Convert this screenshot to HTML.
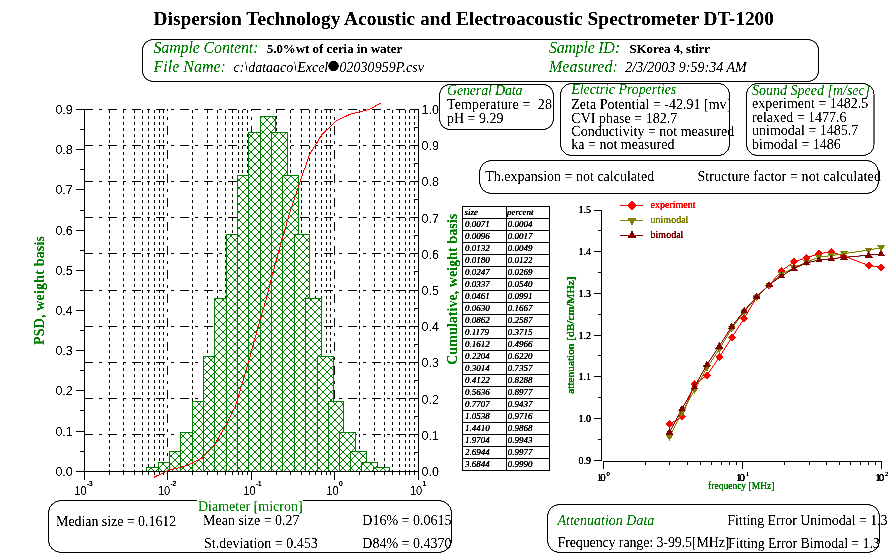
<!DOCTYPE html>
<html><head><meta charset="utf-8"><title>DT-1200</title>
<style>html,body{margin:0;padding:0;background:#fff}svg text{white-space:pre}</style></head>
<body>
<svg width="891" height="557" viewBox="0 0 891 557" style="display:block">
<defs>
<pattern id="hx" x="3" y="0" width="8" height="8" patternUnits="userSpaceOnUse">
<g fill="#008000" shape-rendering="crispEdges">
<rect x="0" y="0" width="1" height="1"/>
<rect x="0" y="7" width="1" height="1"/>
<rect x="1" y="1" width="1" height="1"/>
<rect x="1" y="6" width="1" height="1"/>
<rect x="2" y="2" width="1" height="1"/>
<rect x="2" y="5" width="1" height="1"/>
<rect x="3" y="3" width="1" height="1"/>
<rect x="3" y="4" width="1" height="1"/>
<rect x="4" y="3" width="1" height="1"/>
<rect x="4" y="4" width="1" height="1"/>
<rect x="5" y="2" width="1" height="1"/>
<rect x="5" y="5" width="1" height="1"/>
<rect x="6" y="1" width="1" height="1"/>
<rect x="6" y="6" width="1" height="1"/>
<rect x="7" y="0" width="1" height="1"/>
<rect x="7" y="7" width="1" height="1"/>
</g></pattern>
<filter id="tf" x="0" y="0" width="891" height="557" filterUnits="userSpaceOnUse" color-interpolation-filters="sRGB"><feComponentTransfer><feFuncA type="linear" slope="3" intercept="-0.9"/></feComponentTransfer></filter>
<filter id="tf2" x="0" y="0" width="891" height="557" filterUnits="userSpaceOnUse" color-interpolation-filters="sRGB"><feComponentTransfer><feFuncA type="linear" slope="2.2" intercept="-0.08"/></feComponentTransfer></filter>
</defs>
<rect width="891" height="557" fill="#fff"/>
<g filter="url(#tf)">
<g id="txt">
<text x="153.5" y="25" font-family='"Liberation Serif","Times New Roman",serif' font-size="19.4" fill="#000" font-weight="bold" font-style="normal" text-anchor="start" textLength="620.5" lengthAdjust="spacing" >Dispersion Technology Acoustic and Electroacoustic Spectrometer DT-1200</text>
</g>
<rect x="142.5" y="39.5" width="676.0" height="42.0" rx="11" ry="10" fill="none" stroke="#000" stroke-width="1"/>
<text x="153.5" y="53" font-family='"Liberation Serif","Times New Roman",serif' font-size="16" fill="#008000" font-weight="normal" font-style="italic" text-anchor="start" textLength="105" lengthAdjust="spacing" >Sample Content:</text>
<text x="266.8" y="53" font-family='"Liberation Serif","Times New Roman",serif' font-size="13" fill="#000" font-weight="bold" font-style="normal" text-anchor="start" textLength="135.4" lengthAdjust="spacing" >5.0%wt of ceria in water</text>
<text x="153.5" y="71.6" font-family='"Liberation Serif","Times New Roman",serif' font-size="16" fill="#008000" font-weight="normal" font-style="italic" text-anchor="start" >File Name:</text>
<text x="233.4" y="71.6" font-family='"Liberation Serif","Times New Roman",serif' font-size="14" fill="#000" font-weight="normal" font-style="italic" text-anchor="start" >c:\dataaco\Excel</text>
<circle cx="333.5" cy="66" r="5.2" fill="#000"/>
<text x="339.5" y="71.6" font-family='"Liberation Serif","Times New Roman",serif' font-size="14" fill="#000" font-weight="normal" font-style="italic" text-anchor="start" textLength="84.5" lengthAdjust="spacing" >02030959P.csv</text>
<text x="549" y="53" font-family='"Liberation Serif","Times New Roman",serif' font-size="16" fill="#008000" font-weight="normal" font-style="italic" text-anchor="start" textLength="71" lengthAdjust="spacing" >Sample ID:</text>
<text x="629.5" y="53" font-family='"Liberation Serif","Times New Roman",serif' font-size="13" fill="#000" font-weight="bold" font-style="normal" text-anchor="start" textLength="80.5" lengthAdjust="spacing" >SKorea 4, stirr</text>
<text x="549" y="71.6" font-family='"Liberation Serif","Times New Roman",serif' font-size="16" fill="#008000" font-weight="normal" font-style="italic" text-anchor="start" >Measured:</text>
<text x="625.3" y="71.6" font-family='"Liberation Serif","Times New Roman",serif' font-size="14" fill="#000" font-weight="normal" font-style="italic" text-anchor="start" textLength="121.4" lengthAdjust="spacing" >2/3/2003 9:59:34 AM</text>
<rect x="439.5" y="84.5" width="114.0" height="45.0" rx="10" ry="11" fill="none" stroke="#000" stroke-width="1"/>
<text x="447" y="94.7" font-family='"Liberation Serif","Times New Roman",serif' font-size="14" fill="#008000" font-weight="normal" font-style="italic" text-anchor="start" textLength="75.5" lengthAdjust="spacing" >General Data</text>
<text x="447" y="108.7" font-family='"Liberation Serif","Times New Roman",serif' font-size="14" fill="#000" font-weight="normal" font-style="normal" text-anchor="start" textLength="105" lengthAdjust="spacing" xml:space="preserve">Temperature =  28</text>
<text x="447" y="123" font-family='"Liberation Serif","Times New Roman",serif' font-size="14" fill="#000" font-weight="normal" font-style="normal" text-anchor="start" >pH = 9.29</text>
<rect x="560.5" y="83.5" width="169.0" height="72.0" rx="11" ry="11" fill="none" stroke="#000" stroke-width="1"/>
<text x="571.3" y="94" font-family='"Liberation Serif","Times New Roman",serif' font-size="14" fill="#008000" font-weight="normal" font-style="italic" text-anchor="start" textLength="105" lengthAdjust="spacing" >Electric Properties</text>
<text x="571.3" y="108.7" font-family='"Liberation Serif","Times New Roman",serif' font-size="14" fill="#000" font-weight="normal" font-style="normal" text-anchor="start" >Zeta Potential = -42.91 [mv]</text>
<text x="571.3" y="122.6" font-family='"Liberation Serif","Times New Roman",serif' font-size="14" fill="#000" font-weight="normal" font-style="normal" text-anchor="start" >CVI phase = 182.7</text>
<text x="571.3" y="135.7" font-family='"Liberation Serif","Times New Roman",serif' font-size="14" fill="#000" font-weight="normal" font-style="normal" text-anchor="start" >Conductivity = not measured</text>
<text x="571.3" y="149.1" font-family='"Liberation Serif","Times New Roman",serif' font-size="14" fill="#000" font-weight="normal" font-style="normal" text-anchor="start" >ka = not measured</text>
<rect x="746.5" y="83.5" width="127.5" height="72.0" rx="11" ry="11" fill="none" stroke="#000" stroke-width="1"/>
<text x="752" y="94.5" font-family='"Liberation Serif","Times New Roman",serif' font-size="14" fill="#008000" font-weight="normal" font-style="italic" text-anchor="start" >Sound Speed [m/sec]</text>
<text x="752" y="108" font-family='"Liberation Serif","Times New Roman",serif' font-size="14" fill="#000" font-weight="normal" font-style="normal" text-anchor="start" >experiment = 1482.5</text>
<text x="752" y="122" font-family='"Liberation Serif","Times New Roman",serif' font-size="14" fill="#000" font-weight="normal" font-style="normal" text-anchor="start" >relaxed = 1477.6</text>
<text x="752" y="135" font-family='"Liberation Serif","Times New Roman",serif' font-size="14" fill="#000" font-weight="normal" font-style="normal" text-anchor="start" >unimodal = 1485.7</text>
<text x="752" y="149" font-family='"Liberation Serif","Times New Roman",serif' font-size="14" fill="#000" font-weight="normal" font-style="normal" text-anchor="start" >bimodal = 1486</text>
<rect x="479.5" y="160.5" width="399.0" height="33.0" rx="12" ry="12" fill="none" stroke="#000" stroke-width="1"/>
<text x="485.3" y="180.6" font-family='"Liberation Serif","Times New Roman",serif' font-size="14" fill="#000" font-weight="normal" font-style="normal" text-anchor="start" >Th.expansion = not calculated</text>
<text x="697.4" y="180.6" font-family='"Liberation Serif","Times New Roman",serif' font-size="14" fill="#000" font-weight="normal" font-style="normal" text-anchor="start" textLength="183.5" lengthAdjust="spacing" >Structure factor = not calculated</text>
<g shape-rendering="crispEdges" stroke="#000" stroke-width="1" fill="none">
<line x1="109.5" y1="471.0" x2="109.5" y2="109.0" stroke-dasharray="3 3" stroke-dashoffset="2"/>
<line x1="123.5" y1="471.0" x2="123.5" y2="109.0" stroke-dasharray="3 3" stroke-dashoffset="2"/>
<line x1="134.5" y1="471.0" x2="134.5" y2="109.0" stroke-dasharray="3 3" stroke-dashoffset="2"/>
<line x1="142.5" y1="471.0" x2="142.5" y2="109.0" stroke-dasharray="3 3" stroke-dashoffset="2"/>
<line x1="148.5" y1="471.0" x2="148.5" y2="109.0" stroke-dasharray="3 3" stroke-dashoffset="2"/>
<line x1="154.5" y1="471.0" x2="154.5" y2="109.0" stroke-dasharray="3 3" stroke-dashoffset="2"/>
<line x1="159.5" y1="471.0" x2="159.5" y2="109.0" stroke-dasharray="3 3" stroke-dashoffset="2"/>
<line x1="163.5" y1="471.0" x2="163.5" y2="109.0" stroke-dasharray="3 3" stroke-dashoffset="2"/>
<line x1="167.5" y1="471.0" x2="167.5" y2="109.0" stroke-dasharray="9 6 3 6"/>
<line x1="192.5" y1="471.0" x2="192.5" y2="109.0" stroke-dasharray="3 3" stroke-dashoffset="2"/>
<line x1="207.5" y1="471.0" x2="207.5" y2="109.0" stroke-dasharray="3 3" stroke-dashoffset="2"/>
<line x1="217.5" y1="471.0" x2="217.5" y2="109.0" stroke-dasharray="3 3" stroke-dashoffset="2"/>
<line x1="225.5" y1="471.0" x2="225.5" y2="109.0" stroke-dasharray="3 3" stroke-dashoffset="2"/>
<line x1="232.5" y1="471.0" x2="232.5" y2="109.0" stroke-dasharray="3 3" stroke-dashoffset="2"/>
<line x1="238.5" y1="471.0" x2="238.5" y2="109.0" stroke-dasharray="3 3" stroke-dashoffset="2"/>
<line x1="242.5" y1="471.0" x2="242.5" y2="109.0" stroke-dasharray="3 3" stroke-dashoffset="2"/>
<line x1="247.5" y1="471.0" x2="247.5" y2="109.0" stroke-dasharray="3 3" stroke-dashoffset="2"/>
<line x1="251.5" y1="471.0" x2="251.5" y2="109.0" stroke-dasharray="9 6 3 6"/>
<line x1="276.5" y1="471.0" x2="276.5" y2="109.0" stroke-dasharray="3 3" stroke-dashoffset="2"/>
<line x1="290.5" y1="471.0" x2="290.5" y2="109.0" stroke-dasharray="3 3" stroke-dashoffset="2"/>
<line x1="301.5" y1="471.0" x2="301.5" y2="109.0" stroke-dasharray="3 3" stroke-dashoffset="2"/>
<line x1="309.5" y1="471.0" x2="309.5" y2="109.0" stroke-dasharray="3 3" stroke-dashoffset="2"/>
<line x1="315.5" y1="471.0" x2="315.5" y2="109.0" stroke-dasharray="3 3" stroke-dashoffset="2"/>
<line x1="321.5" y1="471.0" x2="321.5" y2="109.0" stroke-dasharray="3 3" stroke-dashoffset="2"/>
<line x1="326.5" y1="471.0" x2="326.5" y2="109.0" stroke-dasharray="3 3" stroke-dashoffset="2"/>
<line x1="330.5" y1="471.0" x2="330.5" y2="109.0" stroke-dasharray="3 3" stroke-dashoffset="2"/>
<line x1="334.5" y1="471.0" x2="334.5" y2="109.0" stroke-dasharray="9 6 3 6"/>
<line x1="359.5" y1="471.0" x2="359.5" y2="109.0" stroke-dasharray="3 3" stroke-dashoffset="2"/>
<line x1="374.5" y1="471.0" x2="374.5" y2="109.0" stroke-dasharray="3 3" stroke-dashoffset="2"/>
<line x1="384.5" y1="471.0" x2="384.5" y2="109.0" stroke-dasharray="3 3" stroke-dashoffset="2"/>
<line x1="392.5" y1="471.0" x2="392.5" y2="109.0" stroke-dasharray="3 3" stroke-dashoffset="2"/>
<line x1="399.5" y1="471.0" x2="399.5" y2="109.0" stroke-dasharray="3 3" stroke-dashoffset="2"/>
<line x1="405.5" y1="471.0" x2="405.5" y2="109.0" stroke-dasharray="3 3" stroke-dashoffset="2"/>
<line x1="409.5" y1="471.0" x2="409.5" y2="109.0" stroke-dasharray="3 3" stroke-dashoffset="2"/>
<line x1="414.5" y1="471.0" x2="414.5" y2="109.0" stroke-dasharray="3 3" stroke-dashoffset="2"/>
<line x1="84" y1="109.5" x2="418" y2="109.5" stroke-dasharray="9 6 3 6"/>
<line x1="84" y1="145.5" x2="418" y2="145.5" stroke-dasharray="9 6 3 6"/>
<line x1="84" y1="181.5" x2="418" y2="181.5" stroke-dasharray="9 6 3 6"/>
<line x1="84" y1="217.5" x2="418" y2="217.5" stroke-dasharray="9 6 3 6"/>
<line x1="84" y1="253.5" x2="418" y2="253.5" stroke-dasharray="9 6 3 6"/>
<line x1="84" y1="290.5" x2="418" y2="290.5" stroke-dasharray="9 6 3 6"/>
<line x1="84" y1="326.5" x2="418" y2="326.5" stroke-dasharray="9 6 3 6"/>
<line x1="84" y1="362.5" x2="418" y2="362.5" stroke-dasharray="9 6 3 6"/>
<line x1="84" y1="398.5" x2="418" y2="398.5" stroke-dasharray="9 6 3 6"/>
<line x1="84" y1="434.5" x2="418" y2="434.5" stroke-dasharray="9 6 3 6"/>
</g>
<g shape-rendering="crispEdges" stroke="#008000" stroke-width="1">
<rect x="146.5" y="467.5" width="15.0" height="4.0" fill="#fff"/>
<rect x="146.5" y="467.5" width="15.0" height="4.0" fill="url(#hx)"/>
<rect x="158.5" y="462.5" width="15.0" height="9.0" fill="#fff"/>
<rect x="158.5" y="462.5" width="15.0" height="9.0" fill="url(#hx)"/>
<rect x="169.5" y="451.5" width="15.0" height="20.0" fill="#fff"/>
<rect x="169.5" y="451.5" width="15.0" height="20.0" fill="url(#hx)"/>
<rect x="180.5" y="432.5" width="15.0" height="39.0" fill="#fff"/>
<rect x="180.5" y="432.5" width="15.0" height="39.0" fill="url(#hx)"/>
<rect x="192.5" y="401.5" width="15.0" height="70.0" fill="#fff"/>
<rect x="192.5" y="401.5" width="15.0" height="70.0" fill="url(#hx)"/>
<rect x="203.5" y="356.5" width="15.0" height="115.0" fill="#fff"/>
<rect x="203.5" y="356.5" width="15.0" height="115.0" fill="url(#hx)"/>
<rect x="214.5" y="298.5" width="15.0" height="173.0" fill="#fff"/>
<rect x="214.5" y="298.5" width="15.0" height="173.0" fill="url(#hx)"/>
<rect x="226.5" y="234.5" width="15.0" height="237.0" fill="#fff"/>
<rect x="226.5" y="234.5" width="15.0" height="237.0" fill="url(#hx)"/>
<rect x="237.5" y="175.5" width="15.0" height="296.0" fill="#fff"/>
<rect x="237.5" y="175.5" width="15.0" height="296.0" fill="url(#hx)"/>
<rect x="248.5" y="132.5" width="15.0" height="339.0" fill="#fff"/>
<rect x="248.5" y="132.5" width="15.0" height="339.0" fill="url(#hx)"/>
<rect x="260.5" y="116.5" width="15.0" height="355.0" fill="#fff"/>
<rect x="260.5" y="116.5" width="15.0" height="355.0" fill="url(#hx)"/>
<rect x="271.5" y="132.5" width="16.0" height="339.0" fill="#fff"/>
<rect x="271.5" y="132.5" width="16.0" height="339.0" fill="url(#hx)"/>
<rect x="282.5" y="175.5" width="16.0" height="296.0" fill="#fff"/>
<rect x="282.5" y="175.5" width="16.0" height="296.0" fill="url(#hx)"/>
<rect x="294.5" y="234.5" width="15.0" height="237.0" fill="#fff"/>
<rect x="294.5" y="234.5" width="15.0" height="237.0" fill="url(#hx)"/>
<rect x="305.5" y="298.5" width="16.0" height="173.0" fill="#fff"/>
<rect x="305.5" y="298.5" width="16.0" height="173.0" fill="url(#hx)"/>
<rect x="317.5" y="356.5" width="16.0" height="115.0" fill="#fff"/>
<rect x="317.5" y="356.5" width="16.0" height="115.0" fill="url(#hx)"/>
<rect x="328.5" y="401.5" width="15.0" height="70.0" fill="#fff"/>
<rect x="328.5" y="401.5" width="15.0" height="70.0" fill="url(#hx)"/>
<rect x="339.5" y="432.5" width="16.0" height="39.0" fill="#fff"/>
<rect x="339.5" y="432.5" width="16.0" height="39.0" fill="url(#hx)"/>
<rect x="350.5" y="451.5" width="16.0" height="20.0" fill="#fff"/>
<rect x="350.5" y="451.5" width="16.0" height="20.0" fill="url(#hx)"/>
<rect x="361.5" y="462.5" width="16.0" height="9.0" fill="#fff"/>
<rect x="361.5" y="462.5" width="16.0" height="9.0" fill="url(#hx)"/>
<rect x="373.5" y="467.5" width="16.0" height="4.0" fill="#fff"/>
<rect x="373.5" y="467.5" width="16.0" height="4.0" fill="url(#hx)"/>
</g>
<g shape-rendering="crispEdges" stroke="#000" stroke-width="1" fill="none">
<line x1="84.5" y1="109" x2="84.5" y2="480"/>
<line x1="76" y1="471.5" x2="419" y2="471.5"/>
<line x1="418.5" y1="109" x2="418.5" y2="480"/>
<line x1="76" y1="109.5" x2="85" y2="109.5"/>
<line x1="80" y1="129.5" x2="85" y2="129.5"/>
<line x1="76" y1="149.5" x2="85" y2="149.5"/>
<line x1="80" y1="169.5" x2="85" y2="169.5"/>
<line x1="76" y1="189.5" x2="85" y2="189.5"/>
<line x1="80" y1="210.5" x2="85" y2="210.5"/>
<line x1="76" y1="230.5" x2="85" y2="230.5"/>
<line x1="80" y1="250.5" x2="85" y2="250.5"/>
<line x1="76" y1="270.5" x2="85" y2="270.5"/>
<line x1="80" y1="290.5" x2="85" y2="290.5"/>
<line x1="76" y1="310.5" x2="85" y2="310.5"/>
<line x1="80" y1="330.5" x2="85" y2="330.5"/>
<line x1="76" y1="350.5" x2="85" y2="350.5"/>
<line x1="80" y1="370.5" x2="85" y2="370.5"/>
<line x1="76" y1="390.5" x2="85" y2="390.5"/>
<line x1="80" y1="410.5" x2="85" y2="410.5"/>
<line x1="76" y1="431.5" x2="85" y2="431.5"/>
<line x1="80" y1="451.5" x2="85" y2="451.5"/>
<line x1="76" y1="471.5" x2="85" y2="471.5"/>
<line x1="410" y1="109.5" x2="418" y2="109.5"/>
<line x1="414" y1="127.5" x2="418" y2="127.5"/>
<line x1="410" y1="145.5" x2="418" y2="145.5"/>
<line x1="414" y1="163.5" x2="418" y2="163.5"/>
<line x1="410" y1="181.5" x2="418" y2="181.5"/>
<line x1="414" y1="199.5" x2="418" y2="199.5"/>
<line x1="410" y1="217.5" x2="418" y2="217.5"/>
<line x1="414" y1="235.5" x2="418" y2="235.5"/>
<line x1="410" y1="253.5" x2="418" y2="253.5"/>
<line x1="414" y1="271.5" x2="418" y2="271.5"/>
<line x1="410" y1="290.5" x2="418" y2="290.5"/>
<line x1="414" y1="308.5" x2="418" y2="308.5"/>
<line x1="410" y1="326.5" x2="418" y2="326.5"/>
<line x1="414" y1="344.5" x2="418" y2="344.5"/>
<line x1="410" y1="362.5" x2="418" y2="362.5"/>
<line x1="414" y1="380.5" x2="418" y2="380.5"/>
<line x1="410" y1="398.5" x2="418" y2="398.5"/>
<line x1="414" y1="416.5" x2="418" y2="416.5"/>
<line x1="410" y1="434.5" x2="418" y2="434.5"/>
<line x1="414" y1="452.5" x2="418" y2="452.5"/>
<line x1="84.5" y1="471" x2="84.5" y2="480"/>
<line x1="109.5" y1="471" x2="109.5" y2="475"/>
<line x1="123.5" y1="471" x2="123.5" y2="475"/>
<line x1="134.5" y1="471" x2="134.5" y2="475"/>
<line x1="142.5" y1="471" x2="142.5" y2="475"/>
<line x1="148.5" y1="471" x2="148.5" y2="475"/>
<line x1="154.5" y1="471" x2="154.5" y2="475"/>
<line x1="159.5" y1="471" x2="159.5" y2="475"/>
<line x1="163.5" y1="471" x2="163.5" y2="475"/>
<line x1="167.5" y1="471" x2="167.5" y2="480"/>
<line x1="192.5" y1="471" x2="192.5" y2="475"/>
<line x1="207.5" y1="471" x2="207.5" y2="475"/>
<line x1="217.5" y1="471" x2="217.5" y2="475"/>
<line x1="225.5" y1="471" x2="225.5" y2="475"/>
<line x1="232.5" y1="471" x2="232.5" y2="475"/>
<line x1="238.5" y1="471" x2="238.5" y2="475"/>
<line x1="242.5" y1="471" x2="242.5" y2="475"/>
<line x1="247.5" y1="471" x2="247.5" y2="475"/>
<line x1="251.5" y1="471" x2="251.5" y2="480"/>
<line x1="276.5" y1="471" x2="276.5" y2="475"/>
<line x1="290.5" y1="471" x2="290.5" y2="475"/>
<line x1="301.5" y1="471" x2="301.5" y2="475"/>
<line x1="309.5" y1="471" x2="309.5" y2="475"/>
<line x1="315.5" y1="471" x2="315.5" y2="475"/>
<line x1="321.5" y1="471" x2="321.5" y2="475"/>
<line x1="326.5" y1="471" x2="326.5" y2="475"/>
<line x1="330.5" y1="471" x2="330.5" y2="475"/>
<line x1="334.5" y1="471" x2="334.5" y2="480"/>
<line x1="359.5" y1="471" x2="359.5" y2="475"/>
<line x1="374.5" y1="471" x2="374.5" y2="475"/>
<line x1="384.5" y1="471" x2="384.5" y2="475"/>
<line x1="392.5" y1="471" x2="392.5" y2="475"/>
<line x1="399.5" y1="471" x2="399.5" y2="475"/>
<line x1="405.5" y1="471" x2="405.5" y2="475"/>
<line x1="409.5" y1="471" x2="409.5" y2="475"/>
<line x1="414.5" y1="471" x2="414.5" y2="475"/>
</g>
<polyline points="154.0,477.3 159.5,474.6 166.9,470.9 175.0,468.6 180.6,467.6 187.1,465.2 191.5,463.5 200.0,459.1 201.7,458.7 213.9,445.8 225.2,426.4 235.7,405.4 240.2,390.0 248.3,363.0 260.4,318.6 266.0,300.0 272.4,274.7 282.1,239.1 290.6,210.0 300.2,181.1 309.8,154.2 321.7,134.8 336.8,120.4 350.8,114.0 369.1,109.6 380.5,103.2" fill="none" stroke="#f00" stroke-width="1" shape-rendering="crispEdges"/>
<text x="72.8" y="113.9" font-family='"Liberation Sans",Arial,sans-serif' font-size="12.5" fill="#000" font-weight="normal" font-style="normal" text-anchor="end" >0.9</text>
<text x="72.8" y="154.1" font-family='"Liberation Sans",Arial,sans-serif' font-size="12.5" fill="#000" font-weight="normal" font-style="normal" text-anchor="end" >0.8</text>
<text x="72.8" y="194.3" font-family='"Liberation Sans",Arial,sans-serif' font-size="12.5" fill="#000" font-weight="normal" font-style="normal" text-anchor="end" >0.7</text>
<text x="72.8" y="234.50000000000003" font-family='"Liberation Sans",Arial,sans-serif' font-size="12.5" fill="#000" font-weight="normal" font-style="normal" text-anchor="end" >0.6</text>
<text x="72.8" y="274.7" font-family='"Liberation Sans",Arial,sans-serif' font-size="12.5" fill="#000" font-weight="normal" font-style="normal" text-anchor="end" >0.5</text>
<text x="72.8" y="314.9" font-family='"Liberation Sans",Arial,sans-serif' font-size="12.5" fill="#000" font-weight="normal" font-style="normal" text-anchor="end" >0.4</text>
<text x="72.8" y="355.1" font-family='"Liberation Sans",Arial,sans-serif' font-size="12.5" fill="#000" font-weight="normal" font-style="normal" text-anchor="end" >0.3</text>
<text x="72.8" y="395.3" font-family='"Liberation Sans",Arial,sans-serif' font-size="12.5" fill="#000" font-weight="normal" font-style="normal" text-anchor="end" >0.2</text>
<text x="72.8" y="435.5" font-family='"Liberation Sans",Arial,sans-serif' font-size="12.5" fill="#000" font-weight="normal" font-style="normal" text-anchor="end" >0.1</text>
<text x="72.8" y="475.7" font-family='"Liberation Sans",Arial,sans-serif' font-size="12.5" fill="#000" font-weight="normal" font-style="normal" text-anchor="end" >0.0</text>
<text x="421.6" y="113.9" font-family='"Liberation Sans",Arial,sans-serif' font-size="12.5" fill="#000" font-weight="normal" font-style="normal" text-anchor="start" >1.0</text>
<text x="421.6" y="150.1" font-family='"Liberation Sans",Arial,sans-serif' font-size="12.5" fill="#000" font-weight="normal" font-style="normal" text-anchor="start" >0.9</text>
<text x="421.6" y="186.3" font-family='"Liberation Sans",Arial,sans-serif' font-size="12.5" fill="#000" font-weight="normal" font-style="normal" text-anchor="start" >0.8</text>
<text x="421.6" y="222.50000000000003" font-family='"Liberation Sans",Arial,sans-serif' font-size="12.5" fill="#000" font-weight="normal" font-style="normal" text-anchor="start" >0.7</text>
<text x="421.6" y="258.7" font-family='"Liberation Sans",Arial,sans-serif' font-size="12.5" fill="#000" font-weight="normal" font-style="normal" text-anchor="start" >0.6</text>
<text x="421.6" y="294.9" font-family='"Liberation Sans",Arial,sans-serif' font-size="12.5" fill="#000" font-weight="normal" font-style="normal" text-anchor="start" >0.5</text>
<text x="421.6" y="331.1" font-family='"Liberation Sans",Arial,sans-serif' font-size="12.5" fill="#000" font-weight="normal" font-style="normal" text-anchor="start" >0.4</text>
<text x="421.6" y="367.3" font-family='"Liberation Sans",Arial,sans-serif' font-size="12.5" fill="#000" font-weight="normal" font-style="normal" text-anchor="start" >0.3</text>
<text x="421.6" y="403.5" font-family='"Liberation Sans",Arial,sans-serif' font-size="12.5" fill="#000" font-weight="normal" font-style="normal" text-anchor="start" >0.2</text>
<text x="421.6" y="439.7" font-family='"Liberation Sans",Arial,sans-serif' font-size="12.5" fill="#000" font-weight="normal" font-style="normal" text-anchor="start" >0.1</text>
<text x="421.6" y="475.9" font-family='"Liberation Sans",Arial,sans-serif' font-size="12.5" fill="#000" font-weight="normal" font-style="normal" text-anchor="start" >0.0</text>
<g transform="translate(74.5,494.9) scale(0.88,1.06)">
<text x="0" y="0" font-family='"Liberation Sans",Arial,sans-serif' font-size="12.5" fill="#000" font-weight="normal" font-style="normal" text-anchor="start" >10</text>
</g>
<g transform="translate(158.0,494.9) scale(0.88,1.06)">
<text x="0" y="0" font-family='"Liberation Sans",Arial,sans-serif' font-size="12.5" fill="#000" font-weight="normal" font-style="normal" text-anchor="start" >10</text>
</g>
<g transform="translate(243.5,494.9) scale(0.88,1.06)">
<text x="0" y="0" font-family='"Liberation Sans",Arial,sans-serif' font-size="12.5" fill="#000" font-weight="normal" font-style="normal" text-anchor="start" >10</text>
</g>
<g transform="translate(326.5,494.9) scale(0.88,1.06)">
<text x="0" y="0" font-family='"Liberation Sans",Arial,sans-serif' font-size="12.5" fill="#000" font-weight="normal" font-style="normal" text-anchor="start" >10</text>
</g>
<g transform="translate(410.0,494.9) scale(0.88,1.06)">
<text x="0" y="0" font-family='"Liberation Sans",Arial,sans-serif' font-size="12.5" fill="#000" font-weight="normal" font-style="normal" text-anchor="start" >10</text>
</g>
<text transform="translate(43.8,345) rotate(-90)" font-family='"Liberation Serif","Times New Roman",serif' font-size="14" font-weight="bold" fill="#008000" textLength="109" lengthAdjust="spacing">PSD, weight basis</text>
<text transform="translate(456.5,364.8) rotate(-90)" font-family='"Liberation Serif","Times New Roman",serif' font-size="14" font-weight="bold" fill="#008000" textLength="151" lengthAdjust="spacing">Cumulative, weight basis</text>
<g shape-rendering="crispEdges" stroke="#000" stroke-width="1" fill="none">
<rect x="462.5" y="206.5" width="87.0" height="264"/>
<line x1="506.5" y1="206.5" x2="506.5" y2="470.5"/>
<line x1="462.5" y1="218.5" x2="549.5" y2="218.5"/>
<line x1="462.5" y1="230.5" x2="549.5" y2="230.5"/>
<line x1="462.5" y1="242.5" x2="549.5" y2="242.5"/>
<line x1="462.5" y1="254.5" x2="549.5" y2="254.5"/>
<line x1="462.5" y1="266.5" x2="549.5" y2="266.5"/>
<line x1="462.5" y1="278.5" x2="549.5" y2="278.5"/>
<line x1="462.5" y1="290.5" x2="549.5" y2="290.5"/>
<line x1="462.5" y1="302.5" x2="549.5" y2="302.5"/>
<line x1="462.5" y1="314.5" x2="549.5" y2="314.5"/>
<line x1="462.5" y1="326.5" x2="549.5" y2="326.5"/>
<line x1="462.5" y1="338.5" x2="549.5" y2="338.5"/>
<line x1="462.5" y1="350.5" x2="549.5" y2="350.5"/>
<line x1="462.5" y1="362.5" x2="549.5" y2="362.5"/>
<line x1="462.5" y1="374.5" x2="549.5" y2="374.5"/>
<line x1="462.5" y1="386.5" x2="549.5" y2="386.5"/>
<line x1="462.5" y1="398.5" x2="549.5" y2="398.5"/>
<line x1="462.5" y1="410.5" x2="549.5" y2="410.5"/>
<line x1="462.5" y1="422.5" x2="549.5" y2="422.5"/>
<line x1="462.5" y1="434.5" x2="549.5" y2="434.5"/>
<line x1="462.5" y1="446.5" x2="549.5" y2="446.5"/>
<line x1="462.5" y1="458.5" x2="549.5" y2="458.5"/>
</g>
<g shape-rendering="crispEdges" stroke="#000" stroke-width="1" fill="none">
<line x1="601.5" y1="210" x2="601.5" y2="461"/>
<line x1="594" y1="210.5" x2="602" y2="210.5"/>
<line x1="598" y1="230.5" x2="602" y2="230.5"/>
<line x1="594" y1="251.5" x2="602" y2="251.5"/>
<line x1="598" y1="272.5" x2="602" y2="272.5"/>
<line x1="594" y1="293.5" x2="602" y2="293.5"/>
<line x1="598" y1="314.5" x2="602" y2="314.5"/>
<line x1="594" y1="335.5" x2="602" y2="335.5"/>
<line x1="598" y1="355.5" x2="602" y2="355.5"/>
<line x1="594" y1="376.5" x2="602" y2="376.5"/>
<line x1="598" y1="397.5" x2="602" y2="397.5"/>
<line x1="594" y1="418.5" x2="602" y2="418.5"/>
<line x1="598" y1="439.5" x2="602" y2="439.5"/>
<line x1="594" y1="460.5" x2="602" y2="460.5"/>
<line x1="603" y1="461.5" x2="882" y2="461.5"/>
<line x1="603.5" y1="461" x2="603.5" y2="468.5"/>
<line x1="645.5" y1="461" x2="645.5" y2="464.5"/>
<line x1="669.5" y1="461" x2="669.5" y2="464.5"/>
<line x1="687.5" y1="461" x2="687.5" y2="464.5"/>
<line x1="700.5" y1="461" x2="700.5" y2="464.5"/>
<line x1="711.5" y1="461" x2="711.5" y2="464.5"/>
<line x1="721.5" y1="461" x2="721.5" y2="464.5"/>
<line x1="729.5" y1="461" x2="729.5" y2="464.5"/>
<line x1="736.5" y1="461" x2="736.5" y2="464.5"/>
<line x1="742.5" y1="461" x2="742.5" y2="468.5"/>
<line x1="784.5" y1="461" x2="784.5" y2="464.5"/>
<line x1="809.5" y1="461" x2="809.5" y2="464.5"/>
<line x1="826.5" y1="461" x2="826.5" y2="464.5"/>
<line x1="839.5" y1="461" x2="839.5" y2="464.5"/>
<line x1="850.5" y1="461" x2="850.5" y2="464.5"/>
<line x1="860.5" y1="461" x2="860.5" y2="464.5"/>
<line x1="868.5" y1="461" x2="868.5" y2="464.5"/>
<line x1="875.5" y1="461" x2="875.5" y2="464.5"/>
<line x1="881.5" y1="461" x2="881.5" y2="468.5"/>
</g>
<polyline points="669.5,424.3 682.0,416.7 694.4,384.1 706.9,375.4 719.3,357.2 731.8,337.6 744.2,318.3 756.6,297.3 769.1,285.2 781.5,270.8 794.0,261.8 806.5,257.8 818.9,253.7 831.4,251.9 843.8,256.0 868.7,265.5 881.1,267.4" fill="none" stroke="#f00" stroke-width="1"/>
<path d="M665.5,424.3L669.5,420.3L673.5,424.3L669.5,428.3Z" fill="#f00" shape-rendering="crispEdges"/>
<path d="M678.0,416.7L682.0,412.7L686.0,416.7L682.0,420.7Z" fill="#f00" shape-rendering="crispEdges"/>
<path d="M690.4,384.1L694.4,380.1L698.4,384.1L694.4,388.1Z" fill="#f00" shape-rendering="crispEdges"/>
<path d="M702.9,375.4L706.9,371.4L710.9,375.4L706.9,379.4Z" fill="#f00" shape-rendering="crispEdges"/>
<path d="M715.3,357.2L719.3,353.2L723.3,357.2L719.3,361.2Z" fill="#f00" shape-rendering="crispEdges"/>
<path d="M727.8,337.6L731.8,333.6L735.8,337.6L731.8,341.6Z" fill="#f00" shape-rendering="crispEdges"/>
<path d="M740.2,318.3L744.2,314.3L748.2,318.3L744.2,322.3Z" fill="#f00" shape-rendering="crispEdges"/>
<path d="M752.6,297.3L756.6,293.3L760.6,297.3L756.6,301.3Z" fill="#f00" shape-rendering="crispEdges"/>
<path d="M765.1,285.2L769.1,281.2L773.1,285.2L769.1,289.2Z" fill="#f00" shape-rendering="crispEdges"/>
<path d="M777.5,270.8L781.5,266.8L785.5,270.8L781.5,274.8Z" fill="#f00" shape-rendering="crispEdges"/>
<path d="M790.0,261.8L794.0,257.8L798.0,261.8L794.0,265.8Z" fill="#f00" shape-rendering="crispEdges"/>
<path d="M802.5,257.8L806.5,253.8L810.5,257.8L806.5,261.8Z" fill="#f00" shape-rendering="crispEdges"/>
<path d="M814.9,253.7L818.9,249.7L822.9,253.7L818.9,257.7Z" fill="#f00" shape-rendering="crispEdges"/>
<path d="M827.4,251.9L831.4,247.9L835.4,251.9L831.4,255.9Z" fill="#f00" shape-rendering="crispEdges"/>
<path d="M839.8,256.0L843.8,252.0L847.8,256.0L843.8,260.0Z" fill="#f00" shape-rendering="crispEdges"/>
<path d="M864.7,265.5L868.7,261.5L872.7,265.5L868.7,269.5Z" fill="#f00" shape-rendering="crispEdges"/>
<path d="M877.1,267.4L881.1,263.4L885.1,267.4L881.1,271.4Z" fill="#f00" shape-rendering="crispEdges"/>
<polyline points="669.5,436.9 682.0,412.6 694.4,390.3 706.9,367.8 719.3,349.2 731.8,328.5 744.2,311.9 756.6,297.0 769.1,285.0 781.5,274.0 794.0,267.8 806.5,262.1 818.9,257.2 831.4,255.6 843.8,253.7 868.7,250.1 881.1,247.6" fill="none" stroke="#808000" stroke-width="1"/>
<path d="M665.6,434.5L673.4,434.5L669.5,440.9Z" fill="#808000" shape-rendering="crispEdges"/>
<path d="M678.1,410.2L685.9,410.2L682.0,416.6Z" fill="#808000" shape-rendering="crispEdges"/>
<path d="M690.5,387.9L698.3,387.9L694.4,394.3Z" fill="#808000" shape-rendering="crispEdges"/>
<path d="M703.0,365.4L710.8,365.4L706.9,371.8Z" fill="#808000" shape-rendering="crispEdges"/>
<path d="M715.4,346.8L723.2,346.8L719.3,353.2Z" fill="#808000" shape-rendering="crispEdges"/>
<path d="M727.9,326.1L735.6,326.1L731.8,332.5Z" fill="#808000" shape-rendering="crispEdges"/>
<path d="M740.3,309.5L748.1,309.5L744.2,315.9Z" fill="#808000" shape-rendering="crispEdges"/>
<path d="M752.8,294.6L760.5,294.6L756.6,301.0Z" fill="#808000" shape-rendering="crispEdges"/>
<path d="M765.2,282.6L773.0,282.6L769.1,289.0Z" fill="#808000" shape-rendering="crispEdges"/>
<path d="M777.6,271.6L785.4,271.6L781.5,278.0Z" fill="#808000" shape-rendering="crispEdges"/>
<path d="M790.1,265.4L797.9,265.4L794.0,271.8Z" fill="#808000" shape-rendering="crispEdges"/>
<path d="M802.6,259.7L810.4,259.7L806.5,266.1Z" fill="#808000" shape-rendering="crispEdges"/>
<path d="M815.0,254.8L822.8,254.8L818.9,261.2Z" fill="#808000" shape-rendering="crispEdges"/>
<path d="M827.5,253.2L835.2,253.2L831.4,259.6Z" fill="#808000" shape-rendering="crispEdges"/>
<path d="M839.9,251.3L847.7,251.3L843.8,257.7Z" fill="#808000" shape-rendering="crispEdges"/>
<path d="M864.8,247.7L872.6,247.7L868.7,254.1Z" fill="#808000" shape-rendering="crispEdges"/>
<path d="M877.2,245.2L885.0,245.2L881.1,251.6Z" fill="#808000" shape-rendering="crispEdges"/>
<polyline points="669.5,432.2 682.0,408.8 694.4,386.8 706.9,364.7 719.3,346.1 731.8,326.4 744.2,310.7 756.6,296.7 769.1,284.9 781.5,276.0 794.0,268.5 806.5,263.0 818.9,260.0 831.4,258.7 843.8,257.4 868.7,255.2 881.1,253.9" fill="none" stroke="#800000" stroke-width="1"/>
<path d="M665.6,434.6L673.4,434.6L669.5,428.2Z" fill="#800000" shape-rendering="crispEdges"/>
<path d="M678.1,411.2L685.9,411.2L682.0,404.8Z" fill="#800000" shape-rendering="crispEdges"/>
<path d="M690.5,389.2L698.3,389.2L694.4,382.8Z" fill="#800000" shape-rendering="crispEdges"/>
<path d="M703.0,367.1L710.8,367.1L706.9,360.7Z" fill="#800000" shape-rendering="crispEdges"/>
<path d="M715.4,348.5L723.2,348.5L719.3,342.1Z" fill="#800000" shape-rendering="crispEdges"/>
<path d="M727.9,328.8L735.6,328.8L731.8,322.4Z" fill="#800000" shape-rendering="crispEdges"/>
<path d="M740.3,313.1L748.1,313.1L744.2,306.7Z" fill="#800000" shape-rendering="crispEdges"/>
<path d="M752.8,299.1L760.5,299.1L756.6,292.7Z" fill="#800000" shape-rendering="crispEdges"/>
<path d="M765.2,287.3L773.0,287.3L769.1,280.9Z" fill="#800000" shape-rendering="crispEdges"/>
<path d="M777.6,278.4L785.4,278.4L781.5,272.0Z" fill="#800000" shape-rendering="crispEdges"/>
<path d="M790.1,270.9L797.9,270.9L794.0,264.5Z" fill="#800000" shape-rendering="crispEdges"/>
<path d="M802.6,265.4L810.4,265.4L806.5,259.0Z" fill="#800000" shape-rendering="crispEdges"/>
<path d="M815.0,262.4L822.8,262.4L818.9,256.0Z" fill="#800000" shape-rendering="crispEdges"/>
<path d="M827.5,261.1L835.2,261.1L831.4,254.7Z" fill="#800000" shape-rendering="crispEdges"/>
<path d="M839.9,259.8L847.7,259.8L843.8,253.4Z" fill="#800000" shape-rendering="crispEdges"/>
<path d="M864.8,257.6L872.6,257.6L868.7,251.2Z" fill="#800000" shape-rendering="crispEdges"/>
<path d="M877.2,256.3L885.0,256.3L881.1,249.9Z" fill="#800000" shape-rendering="crispEdges"/>
<line x1="620" y1="205.5" x2="643" y2="205.5" stroke="#f00" stroke-width="1" shape-rendering="crispEdges"/>
<path d="M627.0,205.5L632.0,200.5L637.0,205.5L632.0,210.5Z" fill="#f00" shape-rendering="crispEdges"/>
<line x1="620" y1="220.5" x2="643" y2="220.5" stroke="#808000" stroke-width="1" shape-rendering="crispEdges"/>
<path d="M627.1,217.6L636.9,217.6L632.0,225.5Z" fill="#808000" shape-rendering="crispEdges"/>
<line x1="620" y1="235.5" x2="643" y2="235.5" stroke="#800000" stroke-width="1" shape-rendering="crispEdges"/>
<path d="M627.1,238.4L636.9,238.4L632.0,230.5Z" fill="#800000" shape-rendering="crispEdges"/>
<rect x="48.5" y="500.5" width="403.0" height="52.0" rx="13" ry="12" fill="none" stroke="#000" stroke-width="1"/>
<rect x="197" y="497" width="106" height="8" fill="#fff"/>
<text x="198" y="510.7" font-family='"Liberation Serif","Times New Roman",serif' font-size="14" fill="#008000" font-weight="normal" font-style="normal" text-anchor="start" >Diameter [micron]</text>
<clipPath id="c1"><rect x="49" y="501" width="402.5" height="52"/></clipPath>
<g clip-path="url(#c1)">
<text x="56" y="525.6" font-family='"Liberation Serif","Times New Roman",serif' font-size="14" fill="#000" font-weight="normal" font-style="normal" text-anchor="start" textLength="120.3" lengthAdjust="spacing" >Median size = 0.1612</text>
<text x="203" y="524.7" font-family='"Liberation Serif","Times New Roman",serif' font-size="14" fill="#000" font-weight="normal" font-style="normal" text-anchor="start" >Mean size = 0.27</text>
<text x="204" y="548" font-family='"Liberation Serif","Times New Roman",serif' font-size="14" fill="#000" font-weight="normal" font-style="normal" text-anchor="start" >St.deviation = 0.453</text>
<text x="362.3" y="524.7" font-family='"Liberation Serif","Times New Roman",serif' font-size="14" fill="#000" font-weight="normal" font-style="normal" text-anchor="start" >D16% = 0.0615</text>
<text x="362.3" y="548" font-family='"Liberation Serif","Times New Roman",serif' font-size="14" fill="#000" font-weight="normal" font-style="normal" text-anchor="start" >D84% = 0.4370</text>
</g>
<rect x="547.5" y="504.5" width="332.0" height="48.0" rx="12" ry="12" fill="none" stroke="#000" stroke-width="1"/>
<text x="557.5" y="524.6" font-family='"Liberation Serif","Times New Roman",serif' font-size="14" fill="#008000" font-weight="normal" font-style="italic" text-anchor="start" >Attenuation Data</text>
<text x="727.3" y="525.3" font-family='"Liberation Serif","Times New Roman",serif' font-size="14" fill="#000" font-weight="normal" font-style="normal" text-anchor="start" textLength="160.3" lengthAdjust="spacing" >Fitting Error Unimodal = 1.3</text>
<text x="557.5" y="547.4" font-family='"Liberation Serif","Times New Roman",serif' font-size="14" fill="#000" font-weight="normal" font-style="normal" text-anchor="start" textLength="172" lengthAdjust="spacing" >Frequency range: 3-99.5[MHz]</text>
<clipPath id="c2"><rect x="700" y="530" width="180" height="30"/></clipPath>
<g clip-path="url(#c2)">
<text x="728" y="547.8" font-family='"Liberation Serif","Times New Roman",serif' font-size="14" fill="#000" font-weight="normal" font-style="normal" text-anchor="start" textLength="151.8" lengthAdjust="spacing" >Fitting Error Bimodal = 1.3</text>
</g>
</g>
<g filter="url(#tf2)">
<text x="86.9" y="486.3" font-family='"Liberation Sans",Arial,sans-serif' font-size="6.5" fill="#000" font-weight="normal" font-style="normal" text-anchor="start" >-3</text>
<text x="170.4" y="486.3" font-family='"Liberation Sans",Arial,sans-serif' font-size="6.5" fill="#000" font-weight="normal" font-style="normal" text-anchor="start" >-2</text>
<text x="255.9" y="486.3" font-family='"Liberation Sans",Arial,sans-serif' font-size="6.5" fill="#000" font-weight="normal" font-style="normal" text-anchor="start" >-1</text>
<text x="338.9" y="486.3" font-family='"Liberation Sans",Arial,sans-serif' font-size="6.5" fill="#000" font-weight="normal" font-style="normal" text-anchor="start" >0</text>
<text x="422.4" y="486.3" font-family='"Liberation Sans",Arial,sans-serif' font-size="6.5" fill="#000" font-weight="normal" font-style="normal" text-anchor="start" >1</text>
<text x="464.4" y="214.92000000000002" font-family='"Liberation Serif","Times New Roman",serif' font-size="9" fill="#000" font-weight="normal" font-style="italic" text-anchor="start" >size</text>
<text x="506.9" y="214.92000000000002" font-family='"Liberation Serif","Times New Roman",serif' font-size="9" fill="#000" font-weight="normal" font-style="italic" text-anchor="start" >percent</text>
<text x="465" y="226.94" font-family='"Liberation Serif","Times New Roman",serif' font-size="9" fill="#000" font-weight="normal" font-style="italic" text-anchor="start" >0.0071</text>
<text x="507.8" y="226.94" font-family='"Liberation Serif","Times New Roman",serif' font-size="9" fill="#000" font-weight="normal" font-style="italic" text-anchor="start" >0.0004</text>
<text x="465" y="238.96" font-family='"Liberation Serif","Times New Roman",serif' font-size="9" fill="#000" font-weight="normal" font-style="italic" text-anchor="start" >0.0096</text>
<text x="507.8" y="238.96" font-family='"Liberation Serif","Times New Roman",serif' font-size="9" fill="#000" font-weight="normal" font-style="italic" text-anchor="start" >0.0017</text>
<text x="465" y="250.98" font-family='"Liberation Serif","Times New Roman",serif' font-size="9" fill="#000" font-weight="normal" font-style="italic" text-anchor="start" >0.0132</text>
<text x="507.8" y="250.98" font-family='"Liberation Serif","Times New Roman",serif' font-size="9" fill="#000" font-weight="normal" font-style="italic" text-anchor="start" >0.0049</text>
<text x="465" y="263.0" font-family='"Liberation Serif","Times New Roman",serif' font-size="9" fill="#000" font-weight="normal" font-style="italic" text-anchor="start" >0.0180</text>
<text x="507.8" y="263.0" font-family='"Liberation Serif","Times New Roman",serif' font-size="9" fill="#000" font-weight="normal" font-style="italic" text-anchor="start" >0.0122</text>
<text x="465" y="275.02" font-family='"Liberation Serif","Times New Roman",serif' font-size="9" fill="#000" font-weight="normal" font-style="italic" text-anchor="start" >0.0247</text>
<text x="507.8" y="275.02" font-family='"Liberation Serif","Times New Roman",serif' font-size="9" fill="#000" font-weight="normal" font-style="italic" text-anchor="start" >0.0269</text>
<text x="465" y="287.03999999999996" font-family='"Liberation Serif","Times New Roman",serif' font-size="9" fill="#000" font-weight="normal" font-style="italic" text-anchor="start" >0.0337</text>
<text x="507.8" y="287.03999999999996" font-family='"Liberation Serif","Times New Roman",serif' font-size="9" fill="#000" font-weight="normal" font-style="italic" text-anchor="start" >0.0540</text>
<text x="465" y="299.05999999999995" font-family='"Liberation Serif","Times New Roman",serif' font-size="9" fill="#000" font-weight="normal" font-style="italic" text-anchor="start" >0.0461</text>
<text x="507.8" y="299.05999999999995" font-family='"Liberation Serif","Times New Roman",serif' font-size="9" fill="#000" font-weight="normal" font-style="italic" text-anchor="start" >0.0991</text>
<text x="465" y="311.08" font-family='"Liberation Serif","Times New Roman",serif' font-size="9" fill="#000" font-weight="normal" font-style="italic" text-anchor="start" >0.0630</text>
<text x="507.8" y="311.08" font-family='"Liberation Serif","Times New Roman",serif' font-size="9" fill="#000" font-weight="normal" font-style="italic" text-anchor="start" >0.1667</text>
<text x="465" y="323.09999999999997" font-family='"Liberation Serif","Times New Roman",serif' font-size="9" fill="#000" font-weight="normal" font-style="italic" text-anchor="start" >0.0862</text>
<text x="507.8" y="323.09999999999997" font-family='"Liberation Serif","Times New Roman",serif' font-size="9" fill="#000" font-weight="normal" font-style="italic" text-anchor="start" >0.2587</text>
<text x="465" y="335.12" font-family='"Liberation Serif","Times New Roman",serif' font-size="9" fill="#000" font-weight="normal" font-style="italic" text-anchor="start" >0.1179</text>
<text x="507.8" y="335.12" font-family='"Liberation Serif","Times New Roman",serif' font-size="9" fill="#000" font-weight="normal" font-style="italic" text-anchor="start" >0.3715</text>
<text x="465" y="347.14" font-family='"Liberation Serif","Times New Roman",serif' font-size="9" fill="#000" font-weight="normal" font-style="italic" text-anchor="start" >0.1612</text>
<text x="507.8" y="347.14" font-family='"Liberation Serif","Times New Roman",serif' font-size="9" fill="#000" font-weight="normal" font-style="italic" text-anchor="start" >0.4966</text>
<text x="465" y="359.15999999999997" font-family='"Liberation Serif","Times New Roman",serif' font-size="9" fill="#000" font-weight="normal" font-style="italic" text-anchor="start" >0.2204</text>
<text x="507.8" y="359.15999999999997" font-family='"Liberation Serif","Times New Roman",serif' font-size="9" fill="#000" font-weight="normal" font-style="italic" text-anchor="start" >0.6220</text>
<text x="465" y="371.17999999999995" font-family='"Liberation Serif","Times New Roman",serif' font-size="9" fill="#000" font-weight="normal" font-style="italic" text-anchor="start" >0.3014</text>
<text x="507.8" y="371.17999999999995" font-family='"Liberation Serif","Times New Roman",serif' font-size="9" fill="#000" font-weight="normal" font-style="italic" text-anchor="start" >0.7357</text>
<text x="465" y="383.19999999999993" font-family='"Liberation Serif","Times New Roman",serif' font-size="9" fill="#000" font-weight="normal" font-style="italic" text-anchor="start" >0.4122</text>
<text x="507.8" y="383.19999999999993" font-family='"Liberation Serif","Times New Roman",serif' font-size="9" fill="#000" font-weight="normal" font-style="italic" text-anchor="start" >0.8288</text>
<text x="465" y="395.21999999999997" font-family='"Liberation Serif","Times New Roman",serif' font-size="9" fill="#000" font-weight="normal" font-style="italic" text-anchor="start" >0.5636</text>
<text x="507.8" y="395.21999999999997" font-family='"Liberation Serif","Times New Roman",serif' font-size="9" fill="#000" font-weight="normal" font-style="italic" text-anchor="start" >0.8977</text>
<text x="465" y="407.24" font-family='"Liberation Serif","Times New Roman",serif' font-size="9" fill="#000" font-weight="normal" font-style="italic" text-anchor="start" >0.7707</text>
<text x="507.8" y="407.24" font-family='"Liberation Serif","Times New Roman",serif' font-size="9" fill="#000" font-weight="normal" font-style="italic" text-anchor="start" >0.9437</text>
<text x="465" y="419.26" font-family='"Liberation Serif","Times New Roman",serif' font-size="9" fill="#000" font-weight="normal" font-style="italic" text-anchor="start" >1.0538</text>
<text x="507.8" y="419.26" font-family='"Liberation Serif","Times New Roman",serif' font-size="9" fill="#000" font-weight="normal" font-style="italic" text-anchor="start" >0.9716</text>
<text x="465" y="431.28" font-family='"Liberation Serif","Times New Roman",serif' font-size="9" fill="#000" font-weight="normal" font-style="italic" text-anchor="start" >1.4410</text>
<text x="507.8" y="431.28" font-family='"Liberation Serif","Times New Roman",serif' font-size="9" fill="#000" font-weight="normal" font-style="italic" text-anchor="start" >0.9868</text>
<text x="465" y="443.29999999999995" font-family='"Liberation Serif","Times New Roman",serif' font-size="9" fill="#000" font-weight="normal" font-style="italic" text-anchor="start" >1.9704</text>
<text x="507.8" y="443.29999999999995" font-family='"Liberation Serif","Times New Roman",serif' font-size="9" fill="#000" font-weight="normal" font-style="italic" text-anchor="start" >0.9943</text>
<text x="465" y="455.31999999999994" font-family='"Liberation Serif","Times New Roman",serif' font-size="9" fill="#000" font-weight="normal" font-style="italic" text-anchor="start" >2.6944</text>
<text x="507.8" y="455.31999999999994" font-family='"Liberation Serif","Times New Roman",serif' font-size="9" fill="#000" font-weight="normal" font-style="italic" text-anchor="start" >0.9977</text>
<text x="465" y="467.34" font-family='"Liberation Serif","Times New Roman",serif' font-size="9" fill="#000" font-weight="normal" font-style="italic" text-anchor="start" >3.6844</text>
<text x="507.8" y="467.34" font-family='"Liberation Serif","Times New Roman",serif' font-size="9" fill="#000" font-weight="normal" font-style="italic" text-anchor="start" >0.9990</text>
<text x="591" y="213.4" font-family='"Liberation Serif","Times New Roman",serif' font-size="10" fill="#000" font-weight="normal" font-style="normal" text-anchor="end" >1.5</text>
<text x="591" y="255.1" font-family='"Liberation Serif","Times New Roman",serif' font-size="10" fill="#000" font-weight="normal" font-style="normal" text-anchor="end" >1.4</text>
<text x="591" y="296.79999999999995" font-family='"Liberation Serif","Times New Roman",serif' font-size="10" fill="#000" font-weight="normal" font-style="normal" text-anchor="end" >1.3</text>
<text x="591" y="338.5" font-family='"Liberation Serif","Times New Roman",serif' font-size="10" fill="#000" font-weight="normal" font-style="normal" text-anchor="end" >1.2</text>
<text x="591" y="380.2" font-family='"Liberation Serif","Times New Roman",serif' font-size="10" fill="#000" font-weight="normal" font-style="normal" text-anchor="end" >1.1</text>
<text x="591" y="421.9" font-family='"Liberation Serif","Times New Roman",serif' font-size="10" fill="#000" font-weight="normal" font-style="normal" text-anchor="end" >1.0</text>
<text x="591" y="463.6" font-family='"Liberation Serif","Times New Roman",serif' font-size="10" fill="#000" font-weight="normal" font-style="normal" text-anchor="end" >0.9</text>
<text x="596.8" y="480.6" font-family='"Liberation Serif","Times New Roman",serif' font-size="11" fill="#000" font-weight="normal" font-style="normal" text-anchor="start" textLength="9" lengthAdjust="spacing" >10</text>
<text x="606.5" y="476.4" font-family='"Liberation Serif","Times New Roman",serif' font-size="6.5" fill="#000" font-weight="normal" font-style="normal" text-anchor="start" >0</text>
<text x="735.9999999999999" y="480.6" font-family='"Liberation Serif","Times New Roman",serif' font-size="11" fill="#000" font-weight="normal" font-style="normal" text-anchor="start" textLength="9" lengthAdjust="spacing" >10</text>
<text x="745.6999999999999" y="476.4" font-family='"Liberation Serif","Times New Roman",serif' font-size="6.5" fill="#000" font-weight="normal" font-style="normal" text-anchor="start" >1</text>
<text x="875.1999999999999" y="480.6" font-family='"Liberation Serif","Times New Roman",serif' font-size="11" fill="#000" font-weight="normal" font-style="normal" text-anchor="start" textLength="9" lengthAdjust="spacing" >10</text>
<text x="884.9" y="476.4" font-family='"Liberation Serif","Times New Roman",serif' font-size="6.5" fill="#000" font-weight="normal" font-style="normal" text-anchor="start" >2</text>
<text x="708.1" y="488.9" font-family='"Liberation Serif","Times New Roman",serif' font-size="9.5" fill="#008000" font-weight="normal" font-style="normal" text-anchor="start" textLength="66.3" lengthAdjust="spacing" >frequency [MHz]</text>
<text transform="translate(574,393.7) rotate(-90)" font-family='"Liberation Serif","Times New Roman",serif' font-size="11.3" fill="#008000" stroke="#008000" stroke-width="0.15">attenuation [dB/cm/MHz]</text>
<text x="650.6" y="208.0" font-family='"Liberation Serif","Times New Roman",serif' font-size="10" fill="#f00" font-weight="normal" font-style="normal" text-anchor="start" >experiment</text>
<text x="650.6" y="223.0" font-family='"Liberation Serif","Times New Roman",serif' font-size="10" fill="#808000" font-weight="normal" font-style="normal" text-anchor="start" >unimodal</text>
<text x="650.6" y="238.0" font-family='"Liberation Serif","Times New Roman",serif' font-size="10" fill="#800000" font-weight="normal" font-style="normal" text-anchor="start" >bimodal</text>
</g>
</svg>
</body></html>
